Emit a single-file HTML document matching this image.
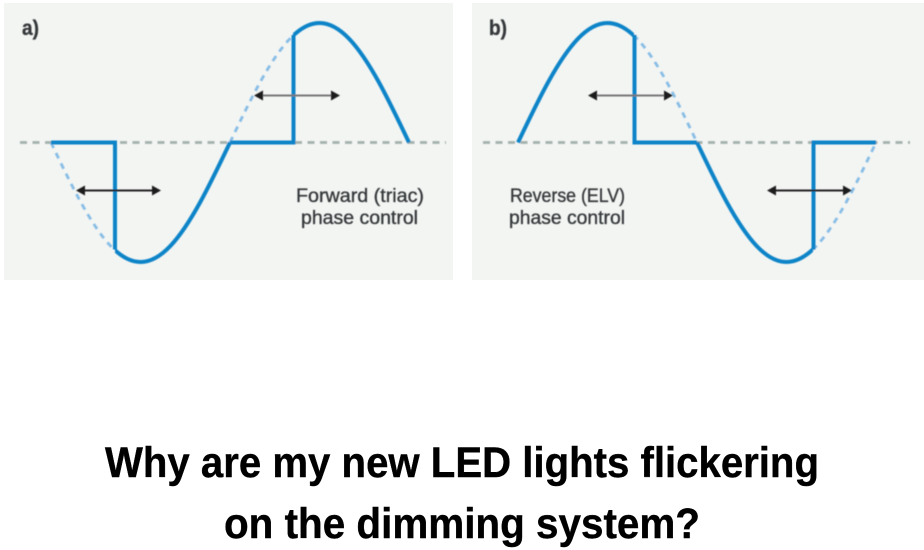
<!DOCTYPE html>
<html>
<head>
<meta charset="utf-8">
<style>
html,body{margin:0;padding:0;background:#fff;width:924px;height:550px;overflow:hidden}
svg{display:block}
</style>
</head>
<body>
<svg width="924" height="550" viewBox="0 0 924 550" xmlns="http://www.w3.org/2000/svg">
<defs>
<filter id="soft" x="-5%" y="-5%" width="110%" height="110%"><feGaussianBlur stdDeviation="0.5"/></filter>
<path id="hp" fill="none" d="M230,142.5 C239.94,121.64 249.89,100.81 259.83,82.75 C269.77,64.69 279.72,49.43 289.67,39 C299.61,28.57 309.56,23 319.5,23 C329.44,23 339.39,28.57 349.33,39 C359.27,49.43 369.22,64.69 379.17,82.75 C389.11,100.81 399.06,121.64 409,142.5"/>
<clipPath id="aL"><rect x="220" y="0" width="73" height="150"/></clipPath>
<clipPath id="aR"><rect x="293" y="0" width="130" height="150"/></clipPath>
<clipPath id="bL"><rect x="510" y="0" width="124" height="150"/></clipPath>
<clipPath id="bR"><rect x="634" y="0" width="70" height="150"/></clipPath>
<clipPath id="cL"><rect x="40" y="135" width="75" height="140"/></clipPath>
<clipPath id="cR"><rect x="115" y="135" width="122" height="140"/></clipPath>
<clipPath id="dL"><rect x="690" y="135" width="123" height="140"/></clipPath>
<clipPath id="dR"><rect x="813" y="135" width="70" height="140"/></clipPath>
</defs>

<rect x="4" y="3" width="449" height="277" fill="#f3f5f3"/>
<rect x="472" y="3" width="452" height="277" fill="#f3f5f3"/>

<g filter="url(#soft)">
<!-- axes -->
<line x1="20" y1="142.5" x2="446" y2="142.5" stroke="#a3b0ac" stroke-width="2.8" stroke-dasharray="7 5.5"/>
<line x1="483" y1="142.5" x2="910" y2="142.5" stroke="#a3b0ac" stroke-width="2.8" stroke-dasharray="7 5.5"/>

<!-- dashed portions -->
<g stroke="#88bde5" stroke-width="2.8" stroke-dasharray="6 5.5">
<g clip-path="url(#aL)"><use href="#hp"/></g>
<g clip-path="url(#cL)"><use href="#hp" transform="translate(-179,285) scale(1,-1)"/></g>
<g clip-path="url(#bR)"><use href="#hp" transform="translate(288,0)"/></g>
<g clip-path="url(#dR)"><use href="#hp" transform="translate(467,285) scale(1,-1)"/></g>
</g>

<!-- solid portions -->
<g stroke="#0a84c8" stroke-width="4">
<g clip-path="url(#aR)"><use href="#hp"/></g>
<g clip-path="url(#cR)"><use href="#hp" transform="translate(-179,285) scale(1,-1)"/></g>
<g clip-path="url(#bL)"><use href="#hp" transform="translate(288,0)"/></g>
<g clip-path="url(#dL)"><use href="#hp" transform="translate(467,285) scale(1,-1)"/></g>
</g>
<g fill="none" stroke="#0a84c8" stroke-width="4" stroke-linejoin="miter">
<path d="M51,142.5 H115 V249.5"/>
<path d="M230,142.5 H293.5 V35"/>
<path d="M634.5,35 V142.5 H697"/>
<path d="M876,142.5 H813.5 V249.5"/>
</g>

<!-- arrows -->
<g stroke-width="2">
<line x1="260" y1="95.5" x2="334" y2="95.5" stroke="#777"/>
<line x1="82" y1="190.5" x2="155" y2="190.5" stroke="#222"/>
<line x1="594" y1="95.5" x2="668" y2="95.5" stroke="#777"/>
<line x1="773" y1="190.5" x2="847" y2="190.5" stroke="#222"/>
</g>
<g fill="#1c1c1c">
<path d="M254,95.5 L263,90.5 V100.5 Z"/><path d="M340,95.5 L331,90.5 V100.5 Z"/>
<path d="M76,190.5 L85,185.5 V195.5 Z"/><path d="M161,190.5 L152,185.5 V195.5 Z"/>
<path d="M588,95.5 L597,90.5 V100.5 Z"/><path d="M673,95.5 L664,90.5 V100.5 Z"/>
<path d="M767,190.5 L776,185.5 V195.5 Z"/><path d="M852,190.5 L843,185.5 V195.5 Z"/>
</g>

<!-- labels -->
<g font-family="'Liberation Sans', sans-serif" fill="#35383a" stroke="#35383a" stroke-width="0.35">
<text x="22" y="35" font-size="21" font-weight="bold" textLength="17" lengthAdjust="spacingAndGlyphs">a)</text>
<text x="489" y="35" font-size="21" font-weight="bold" textLength="18" lengthAdjust="spacingAndGlyphs">b)</text>
<text x="296" y="202" font-size="19" textLength="128" lengthAdjust="spacingAndGlyphs">Forward (triac)</text>
<text x="301" y="224" font-size="19" textLength="117" lengthAdjust="spacingAndGlyphs">phase control</text>
<text x="510" y="202" font-size="19" textLength="115" lengthAdjust="spacingAndGlyphs">Reverse (ELV)</text>
<text x="509" y="224" font-size="19" textLength="116" lengthAdjust="spacingAndGlyphs">phase control</text>
</g>
</g>

<!-- title -->
<g font-family="'Liberation Sans', sans-serif" font-weight="bold" font-size="43" fill="#000" stroke="#000" stroke-width="0.4">
<text x="105" y="477" textLength="714" lengthAdjust="spacingAndGlyphs">Why are my new LED lights flickering</text>
<text x="224" y="538" textLength="476" lengthAdjust="spacingAndGlyphs">on the dimming system?</text>
</g>
</svg>
</body>
</html>
